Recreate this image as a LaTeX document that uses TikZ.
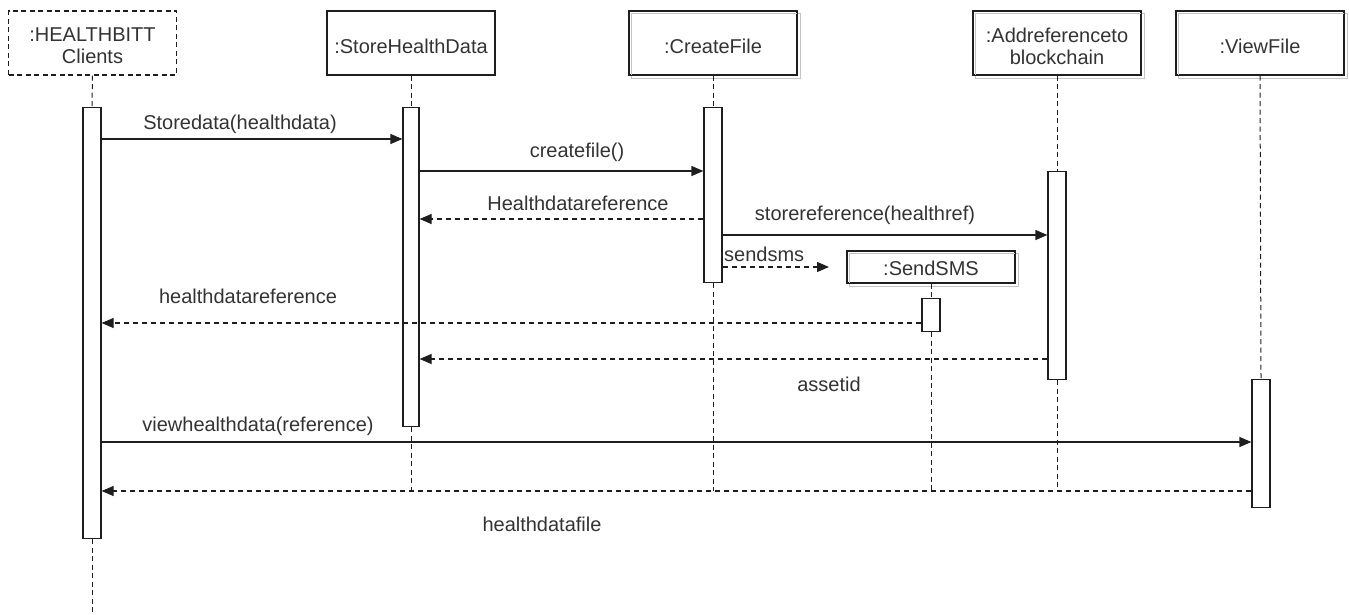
\documentclass[tikz,border=0pt]{standalone}
\usepackage{fontspec}
\setmainfont{Liberation Sans}
\usetikzlibrary{arrows.meta}
\definecolor{ink}{HTML}{1E1E1E}
\definecolor{txt}{HTML}{333333}
\definecolor{shade}{HTML}{C4C4C4}
\tikzset{
  hdr/.style={draw=ink, line width=1.2pt, inner sep=0pt,
              minimum width=168pt, minimum height=64pt},
  cliHdr/.style={hdr, dash pattern=on 5pt off 3.5pt},
  act/.style={draw=ink, line width=1.2pt, fill=white, inner sep=0pt,
              minimum width=18pt, anchor=north},
  life/.style={draw=ink, line width=1pt, dash pattern=on 5pt off 3.5pt},
  call/.style={draw=ink, line width=1.2pt, -{Triangle[length=12pt,width=10pt]}},
  reply/.style={draw=ink, line width=1.2pt, dash pattern=on 5pt off 4pt,
                -{Triangle[length=12pt,width=10pt]}},
  lbl/.style={text=txt, inner sep=0pt, align=center},
  shadowline/.style={draw=shade, line width=1.2pt}
}
\newcommand{\boxshadow}[1]{%
  \draw[shadowline] ([shift={(3,3)}]#1.south west) rectangle ([shift={(3,3)}]#1.north east);}
\begin{document}
\begin{tikzpicture}[x=1pt, y=-1pt, font=\fontsize{20}{22}\selectfont]
\useasboundingbox (0,0) rectangle (1349,615);

% header boxes
\node[cliHdr] (cl) at (92.5,43) {};
\node[hdr] (sh) at (411,43) {};
\node[hdr] (cf) at (713,43) {};
\node[hdr] (ar) at (1057,43) {};
\node[hdr] (vf) at (1260,43) {};
\node[hdr, minimum height=32pt] (ss) at (931,267) {};
\boxshadow{cf}
\boxshadow{ar}
\boxshadow{vf}
\boxshadow{ss}
\draw[draw=ink, line width=1.2pt] (cf.south west) rectangle (cf.north east);
\draw[draw=ink, line width=1.2pt] (ar.south west) rectangle (ar.north east);
\draw[draw=ink, line width=1.2pt] (vf.south west) rectangle (vf.north east);
\draw[draw=ink, line width=1.2pt] (ss.south west) rectangle (ss.north east);

% header texts
\node[lbl] (clT) at ([yshift=-3pt]cl.center) {:HEALTHBITT\\Clients};
\node[lbl] (shT) at ([yshift=-3pt]sh.center) {:StoreHealthData};
\node[lbl] (cfT) at ([yshift=-3pt]cf.center) {:CreateFile};
\node[lbl] (arT) at ([yshift=-3pt]ar.center) {:Addreferenceto\\blockchain};
\node[lbl] (vfT) at ([yshift=-3pt]vf.center) {:ViewFile};
\node[lbl] (ssT) at ([yshift=-1pt]ss.center) {:SendSMS};

% end points of lifelines
\coordinate (clEnd) at (92,615);
\coordinate (shEnd) at (411,491);
\coordinate (cfEnd) at (713,491);
\coordinate (arEnd) at (1057,491);
\coordinate (ssEnd) at (931,491);

% activations
\node[act, minimum height=431pt] (ca) at (92,107) {};
\node[act, minimum height=319pt, minimum width=16pt] (sa) at (411,107) {};
\node[act, minimum height=175pt] (cfa) at (713,107) {};
\node[act, minimum height=208pt] (ara) at (1057,171) {};
\node[act, minimum height=33pt] (ssa) at (931,298) {};
\node[act, minimum height=128pt] (vfa) at (1261,379) {};

% lifelines
\draw[life] (cl.south) -- (ca.north);
\draw[life] (ca.south) -- (clEnd);
\draw[life] (sh.south) -- (sa.north);
\draw[life] (sa.south) -- (shEnd);
\draw[life] (cf.south) -- (cfa.north);
\draw[life] (cfa.south) -- (cfEnd);
\draw[life] (ar.south) -- (ara.north);
\draw[life] (ara.south) -- (arEnd);
\draw[life] (ss.south) -- (ssa.north);
\draw[life] (ssa.south) -- (ssEnd);
\draw[life] (vf.south) -- (vfa.north);

% messages
\draw[call] (ca.east |- 0,139) -- (sa.west |- 0,139);
\node[lbl] (m1) at (240,124) {Storedata(healthdata)};

\draw[call] (sa.east |- 0,171) -- (cfa.west |- 0,171);
\node[lbl] (m2) at (577,152) {createfile()};

\draw[reply] (cfa.west |- 0,219) -- (sa.east |- 0,219);
\node[lbl] (m3) at (578,203) {Healthdatareference};

\draw[call] (cfa.east |- 0,235) -- (ara.west |- 0,235);
\node[lbl] (m4) at (865,215) {storereference(healthref)};

\coordinate (smsTip) at (829,267);
\draw[reply] (cfa.east |- 0,267) -- (smsTip);
\node[lbl, anchor=west] (m5) at (724,254) {sendsms};

\draw[reply] (ssa.west |- 0,323) -- (ca.east |- 0,323);
\node[lbl] (m6) at (248,296) {healthdatareference};

\draw[reply] (ara.west |- 0,359) -- (sa.east |- 0,359);
\node[lbl] (m7) at (829,384) {assetid};

\draw[call] (ca.east |- 0,442) -- (vfa.west |- 0,442);
\node[lbl] (m8) at (258,426) {viewhealthdata(reference)};

\draw[reply] (vfa.west |- 0,491) -- (ca.east |- 0,491);
\node[lbl] (m9) at (542,524) {healthdatafile};
\end{tikzpicture}
\end{document}
